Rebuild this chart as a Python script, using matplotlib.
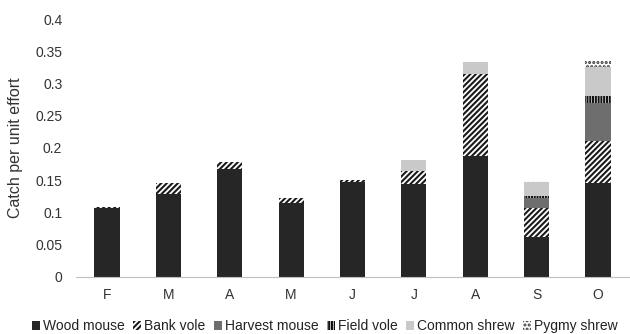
import matplotlib.pyplot as plt
import numpy as np

plt.rcParams['font.family'] = ['Liberation Sans', 'DejaVu Sans']
plt.rcParams['hatch.linewidth'] = 1.5

months = ['F', 'M', 'A', 'M', 'J', 'J', 'A', 'S', 'O']
wood_mouse = [0.107, 0.129, 0.167, 0.114, 0.147, 0.144, 0.187, 0.0625, 0.145]
bank_vole = [0.002, 0.017, 0.011, 0.008, 0.004, 0.020, 0.127, 0.045, 0.066]
harvest_mouse = [0, 0, 0, 0, 0, 0, 0, 0.015, 0.058]
field_vole = [0, 0, 0, 0, 0, 0, 0, 0.003, 0.012]
common_shrew = [0, 0, 0, 0, 0, 0.017, 0.020, 0.022, 0.044]
pygmy_shrew = [0, 0, 0, 0, 0, 0, 0, 0.001, 0.010]

series = [
    ('Wood mouse', wood_mouse, dict(color='#262626')),
    ('Bank vole', bank_vole, dict(facecolor='white', edgecolor='#1a1a1a', hatch='//////')),
    ('Harvest mouse', harvest_mouse, dict(color='#6e6e6e')),
    ('Field vole', field_vole, dict(facecolor='white', edgecolor='#111111', hatch='||||||')),
    ('Common shrew', common_shrew, dict(color='#c9c9c9')),
    ('Pygmy shrew', pygmy_shrew, dict(facecolor='white', edgecolor='#333333', hatch='....')),
]

fig = plt.figure(figsize=(6.3, 3.34), dpi=100)
ax = fig.add_axes([0.121, 0.171, 0.877, 0.772])

x = np.arange(len(months))
bottom = np.zeros(len(months))
for name, vals, style in series:
    ax.bar(x, vals, width=0.41, bottom=bottom, linewidth=0, label=name, **style)
    bottom += np.array(vals)

ax.set_xlim(-0.5, len(months) - 0.5)
ax.set_ylim(0, 0.4)
ax.set_yticks(np.arange(0, 0.41, 0.05))
ax.set_yticklabels(['0', '0.05', '0.1', '0.15', '0.2', '0.25', '0.3', '0.35', '0.4'])
ax.set_xticks(x)
ax.set_xticklabels(months)
ax.tick_params(axis='both', length=0, labelsize=10, colors='#333333', pad=8)
ax.tick_params(axis='y', pad=10)
for s in ['top', 'right', 'left']:
    ax.spines[s].set_visible(False)
ax.spines['bottom'].set_color('#bfbfbf')
ax.set_ylabel('Catch per unit effort', fontsize=11.5, color='#333333')
ax.yaxis.set_label_coords(-0.096, 0.5)

ax.legend(loc='upper center', bbox_to_anchor=(0.45, -0.115), ncol=6, frameon=False,
          fontsize=10, handlelength=0.6, handleheight=0.6, handletextpad=0.2,
          columnspacing=0.6, labelcolor='#222222')

fig.savefig('out.png', dpi=100)
